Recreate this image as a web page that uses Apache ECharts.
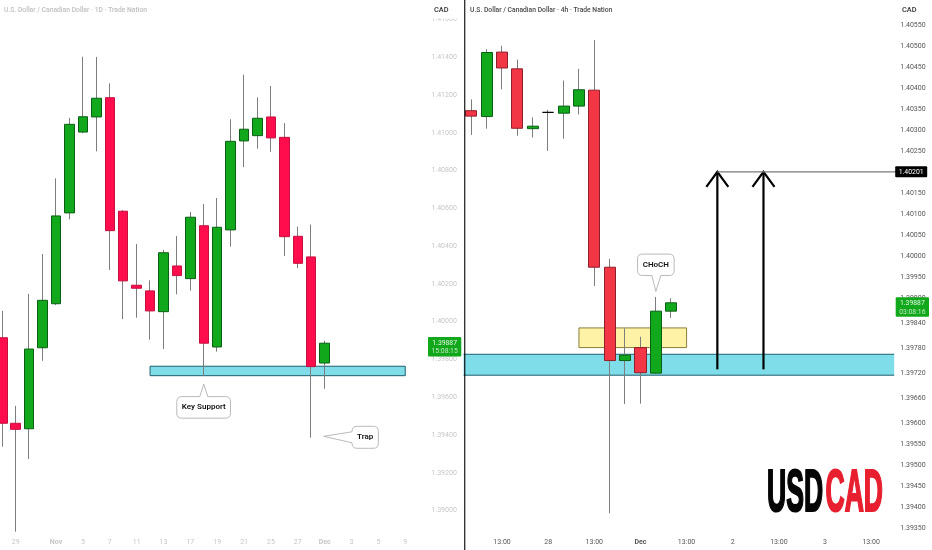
<!DOCTYPE html>
<html><head><meta charset="utf-8">
<style>html,body{margin:0;padding:0;background:#fff}#c{width:932px;height:550px}</style>
<script src="https://cdn.jsdelivr.net/npm/echarts@6/dist/echarts.min.js"></script>
</head><body><div id="c"></div>
<script>
// ---- Daily panel data
const dailyLabels=['','29','','','Nov','','5','','7','','11','','13','','17','','19','','21','','25','','27','','Dec','','3','','5','','9',''];
const dailyOpen =[1.39915,1.39462,1.39433,1.39862,1.40095,1.40576,1.41004,1.41084,1.41186,1.40585,1.40193,1.40163,1.40053,1.40295,1.40228,1.40508,1.39866,1.40486,1.40957,1.40985,1.41084,1.40976,1.40452,1.40343,1.39781];
const dailyClose=[1.39462,1.39430,1.39855,1.40113,1.40560,1.41045,1.41085,1.41183,1.40482,1.40216,1.40177,1.40057,1.40365,1.40244,1.40553,1.39886,1.40500,1.40955,1.41019,1.41077,1.40973,1.40450,1.40309,1.39762,1.39886];
const dailyLow  =[1.39338,1.38888,1.39273,1.39793,1.40088,1.40542,1.40998,1.40902,1.40274,1.40013,1.40021,1.39905,1.39855,1.40145,1.40164,1.39713,1.39841,1.40397,1.40818,1.40916,1.40899,1.40348,1.40283,1.39386,1.39645];
const dailyHigh =[1.40057,1.39554,1.40147,1.40358,1.40759,1.41079,1.41403,1.41402,1.41262,1.40590,1.40411,1.40219,1.40380,1.40454,1.40581,1.40623,1.40655,1.41072,1.41308,1.41188,1.41248,1.41051,1.40503,1.40514,1.39899];
const dailyTicks=[1.390,1.392,1.394,1.396,1.398,1.400,1.402,1.404,1.406,1.408,1.410,1.412,1.414,1.416];
const dailyZone=[11,30,1.39764,1.39714];
// ---- 4h panel data
const h4Labels=['','','13:00','','','28','','','13:00','','','Dec','','','13:00','','','2','','','13:00','','','3','','','13:00',''];
const h4Open =[1.40347,1.40333,1.40487,1.40447,1.40304,1.40343,1.40341,1.40358,1.40396,1.39973,1.39750,1.39781,1.39720,1.39868];
const h4Close=[1.40334,1.40486,1.40449,1.40305,1.40310,1.40343,1.40358,1.40397,1.39973,1.39750,1.39763,1.39721,1.39868,1.39888];
const h4Low  =[1.40289,1.40304,1.40398,1.40287,1.40283,1.40251,1.40280,1.40338,1.39928,1.39385,1.39646,1.39647,1.39718,1.39852];
const h4High =[1.40374,1.40494,1.40502,1.40469,1.40331,1.40349,1.40419,1.40447,1.40516,1.39993,1.39827,1.39807,1.39902,1.39899];
const h4Ticks=[1.3935,1.3940,1.3945,1.3950,1.3955,1.3960,1.3966,1.3972,1.3978,1.3984,1.3990,1.3995,1.4000,1.4005,1.4010,1.4015,1.4025,1.4030,1.4035,1.4040,1.4045,1.4050,1.4055];
const h4BlueZone=[1.39765,1.39715];
const h4YellowZone=[7,14,1.39828,1.39781];
const arrowBars=[16,19];
const arrowTop=1.40201, arrowBottom=1.39729;
const lastPrice=1.39887;

const GREEN='#11a81c',GREENB='#0b5f14',WICK='#7d7d7d';
const FONT='Roboto, sans-serif';

function rows(o,c,l,h){return o.map((v,i)=>[v,c[i],l[i],h[i]]);}
function bodies(o,c){return o.map((v,i)=>{
  const a=[v,c[i],Math.min(v,c[i]),Math.max(v,c[i])];
  if(v===c[i]) return {value:a,itemStyle:{color:'#000',borderColor:'#000',color0:'#000',borderColor0:'#000'}};
  return a;});}
function candleSeries(idx,o,c,l,h,w,red,redB,zoneData){
  return [{
    type:'candlestick',xAxisIndex:idx,yAxisIndex:idx,barWidth:1,z:3,silent:true,
    itemStyle:{color:WICK,color0:WICK,borderColor:WICK,borderColor0:WICK,borderWidth:1},
    data:rows(o,c,l,h),
    markArea:{silent:true,z:1,data:zoneData}
  },{
    type:'candlestick',xAxisIndex:idx,yAxisIndex:idx,barWidth:w,z:4,silent:true,
    itemStyle:{color:GREEN,color0:red,borderColor:GREENB,borderColor0:redB,borderWidth:1},
    data:bodies(o,c)
  }];
}
const BLUE={color:'rgba(0,188,212,0.5)',borderColor:'#1f5f6e',borderWidth:1};
const BLUEFLAT={color:'rgba(0,188,212,0.5)',borderWidth:0};
const YEL={color:'rgba(253,240,150,0.85)',borderColor:'#8a7d3c',borderWidth:1};
// top and bottom edges of the 4h blue zone, across the whole plot
const zoneEdges={type:'custom',xAxisIndex:1,yAxisIndex:1,z:2,silent:true,clip:false,
  data:h4BlueZone.map(v=>[0,v]),
  renderItem:(p,api)=>{
    const y=api.coord([0,api.value(1)])[1];
    return {type:'line',shape:{x1:p.coordSys.x,y1:y,x2:p.coordSys.x+p.coordSys.width,y2:y},style:{stroke:'#1f5f6e',lineWidth:1}};
  }};

// rounded box with one pointer, drawn in pixels around the anchor point
function bubble(x,y,x0,y0,x1,y1,ptr,r){
  const L=x+x0,R=x+x1,T=y+y0,B=y+y1;
  let d='M'+(L+r)+' '+T;
  if(ptr.side==='bottomTop'){
    d+=' L'+(x+ptr.a)+' '+T+' L'+x+' '+y+' L'+(x+ptr.b)+' '+T;
  }
  d+=' L'+(R-r)+' '+T+' Q'+R+' '+T+' '+R+' '+(T+r)+' L'+R+' '+(B-r)+' Q'+R+' '+B+' '+(R-r)+' '+B;
  if(ptr.side==='topBottom'){
    d+=' L'+(x+ptr.b)+' '+B+' L'+x+' '+y+' L'+(x+ptr.a)+' '+B;
  }
  d+=' L'+(L+r)+' '+B+' Q'+L+' '+B+' '+L+' '+(B-r);
  if(ptr.side==='left'){
    d+=' L'+L+' '+(y+ptr.b)+' L'+(x+ptr.tipDx)+' '+y+' L'+L+' '+(y+ptr.a);
  }
  d+=' L'+L+' '+(T+r)+' Q'+L+' '+T+' '+(L+r)+' '+T+' Z';
  return d;
}
function calloutSeries(idx,anchor,text,box,ptr,tx,ty){
  return {type:'custom',xAxisIndex:idx,yAxisIndex:idx,z:6,silent:true,clip:false,data:[anchor],
    renderItem:(p,api)=>{
      const pt=api.coord([api.value(0),api.value(1)]);
      const x=pt[0],y=pt[1];
      return {type:'group',children:[
        {type:'path',shape:{pathData:bubble(x,y,box[0],box[1],box[2],box[3],ptr,5)},
         style:{fill:'#fff',stroke:'#a8a8a8',lineWidth:0.8}},
        {type:'text',style:{x:x+tx,y:y+ty,text:text,fill:'#111',font:'600 8px '+FONT,align:'center',verticalAlign:'middle'}}
      ]};
    }};
}
function priceTag(idx,line2,px0,px1){
  return {type:'custom',xAxisIndex:idx,yAxisIndex:idx,z:7,silent:true,clip:false,data:[[0,lastPrice]],
    renderItem:(p,api)=>{
      const y=api.coord([0,api.value(1)])[1];
      return {type:'group',children:[
        {type:'rect',shape:{x:px0,y:y-6,width:px1-px0,height:19.5,r:1},style:{fill:GREEN}},
        {type:'text',style:{x:(px0+px1)/2,y:y,text:lastPrice.toFixed(5),fill:'#e4f6e4',font:'6.8px '+FONT,align:'center',verticalAlign:'middle'}},
        {type:'text',style:{x:(px0+px1)/2,y:y+8.6,text:line2,fill:'#bfe9c0',font:'6.8px '+FONT,align:'center',verticalAlign:'middle'}}
      ]};
    }};
}
const arrowSeries={type:'custom',xAxisIndex:1,yAxisIndex:1,z:5,silent:true,clip:false,
  data:arrowBars.map(b=>[b,arrowTop,arrowBottom]),
  renderItem:(p,api)=>{
    const t=api.coord([api.value(0),api.value(1)]),b=api.coord([api.value(0),api.value(2)]);
    const st={stroke:'#000',lineWidth:2.2,fill:null};
    return {type:'group',children:[
      {type:'line',shape:{x1:t[0],y1:t[1],x2:b[0],y2:b[1]},style:st},
      {type:'polyline',shape:{points:[[t[0]-11,t[1]+15],[t[0],t[1]],[t[0]+11,t[1]+15]]},style:st}
    ]};
  }};
const targetSeries={type:'custom',xAxisIndex:1,yAxisIndex:1,z:5,silent:true,clip:false,
  data:[[arrowBars[0],arrowTop]],
  renderItem:(p,api)=>{
    const t=api.coord([api.value(0),api.value(1)]);
    const right=p.coordSys.x+p.coordSys.width;
    return {type:'group',children:[
      {type:'line',shape:{x1:t[0],y1:t[1],x2:right+2,y2:t[1]},style:{stroke:'#7a7a7a',lineWidth:1.2}},
      {type:'rect',shape:{x:right+1,y:t[1]-5.6,width:32,height:11,r:1},style:{fill:'#000'}},
      {type:'text',style:{x:right+17,y:t[1],text:api.value(1).toFixed(5),fill:'#fff',font:'6.9px '+FONT,align:'center',verticalAlign:'middle'}}
    ]};
  }};

function fmtX(v){return (v==='Nov'||v==='Dec')?'{b|'+v+'}':v;}
function xAxis(idx,labels,color){
  return {type:'category',gridIndex:idx,data:labels,position:'bottom',
    axisLine:{show:false},axisTick:{show:false},splitLine:{show:false},
    axisLabel:{interval:0,inside:true,margin:3,color:color,fontFamily:FONT,fontSize:7,formatter:fmtX,hideOverlap:false,
      rich:{b:{fontWeight:'bold',fontSize:7,color:color,fontFamily:FONT}}}};
}
function yAxis(idx,ticks,min,max,color){
  return {type:'value',gridIndex:idx,position:'right',min:min,max:max,
    axisLine:{show:false},axisTick:{show:false},splitLine:{show:false},
    axisLabel:{customValues:ticks,margin:6,color:color,fontFamily:FONT,fontSize:7,formatter:v=>v.toFixed(5),hideOverlap:false,
      showMinLabel:true,showMaxLabel:true}};
}
const titleStyle=(t,x,c)=>({type:'text',z:12,x:x,y:10,style:{text:t,fill:c,font:'500 6.75px '+FONT,verticalAlign:'middle'}});
const LOGOFONT='bold 59px "Liberation Sans Narrow","Liberation Sans",sans-serif';
const logoText=(t,x,c)=>({type:'text',z:12,x:x,y:495,scaleX:0.45,style:{text:t,fill:c,stroke:c,lineWidth:2.2,font:LOGOFONT,verticalAlign:'middle',
  shadowBlur:6,shadowColor:'rgba(0,0,0,0.22)',shadowOffsetY:3}});

const chart=echarts.init(document.getElementById('c'),null,{renderer:'canvas'});
chart.setOption({
  animation:false,backgroundColor:'#fff',
  grid:[
    {left:-4.4,top:19.5,width:429.8,height:528.8,outerBoundsMode:'none',containLabel:false},
    {left:463.6,top:4.8,width:430.6,height:544.1,outerBoundsMode:'none',containLabel:false}
  ],
  xAxis:[xAxis(0,dailyLabels,'#c6c6c6'),xAxis(1,h4Labels,'#555')],
  yAxis:[yAxis(0,dailyTicks,1.388,1.416,'#c6c6c6'),yAxis(1,h4Ticks,1.393,1.406,'#555')],
  series:[
    ...candleSeries(0,dailyOpen,dailyClose,dailyLow,dailyHigh,10,'#ff0d4d','#c4113f',
      [[{xAxis:dailyZone[0],yAxis:dailyZone[2],itemStyle:BLUE},{xAxis:dailyZone[1],yAxis:dailyZone[3]}]]),
    ...candleSeries(1,h4Open,h4Close,h4Low,h4High,11.6,'#f23645','#8f1f2b',
      [[{yAxis:h4BlueZone[0],itemStyle:BLUEFLAT},{yAxis:h4BlueZone[1]}],
       [{xAxis:h4YellowZone[0],yAxis:h4YellowZone[2],itemStyle:YEL},{xAxis:h4YellowZone[1],yAxis:h4YellowZone[3]}]]),
    zoneEdges,
    calloutSeries(0,[15,1.39669],'Key Support',[-27,12.4,26.7,34],{side:'bottomTop',a:-4,b:4},0,23.2),
    calloutSeries(0,[24,1.39393],'Trap',[27.4,-10,53.7,12],{side:'left',a:-4.5,b:6.5,tipDx:-1},40.5,0.3),
    calloutSeries(1,[12,1.39915],'CHoCH',[-18.3,-37.4,18.3,-16],{side:'topBottom',a:-4,b:5},0,-26.6),
    arrowSeries,targetSeries,
    priceTag(0,'15:08:15',428,461.3),
    priceTag(1,'03:08:16',895.7,929)
  ],
  graphic:[
    {type:'rect',z:10,shape:{x:425,y:10,width:39,height:8.5},style:{fill:'#fff'}},
    {type:'rect',z:11,shape:{x:464.2,y:0,width:1.1,height:550},style:{fill:'#000'}},
    titleStyle('U.S. Dollar / Canadian Dollar · 1D · Trade Nation',4,'#c0c0c0'),
    titleStyle('U.S. Dollar / Canadian Dollar · 4h · Trade Nation',470,'#4a4a4a'),
    {type:'text',z:12,x:434,y:10,style:{text:'CAD',fill:'#333',font:'500 7.4px '+FONT,verticalAlign:'middle'}},
    {type:'text',z:12,x:902,y:10,style:{text:'CAD',fill:'#333',font:'500 7.4px '+FONT,verticalAlign:'middle'}},
    logoText('USD',767,'#050505'),
    logoText('CAD',825.5,'#e81f2f')
  ]
});
</script></body></html>
